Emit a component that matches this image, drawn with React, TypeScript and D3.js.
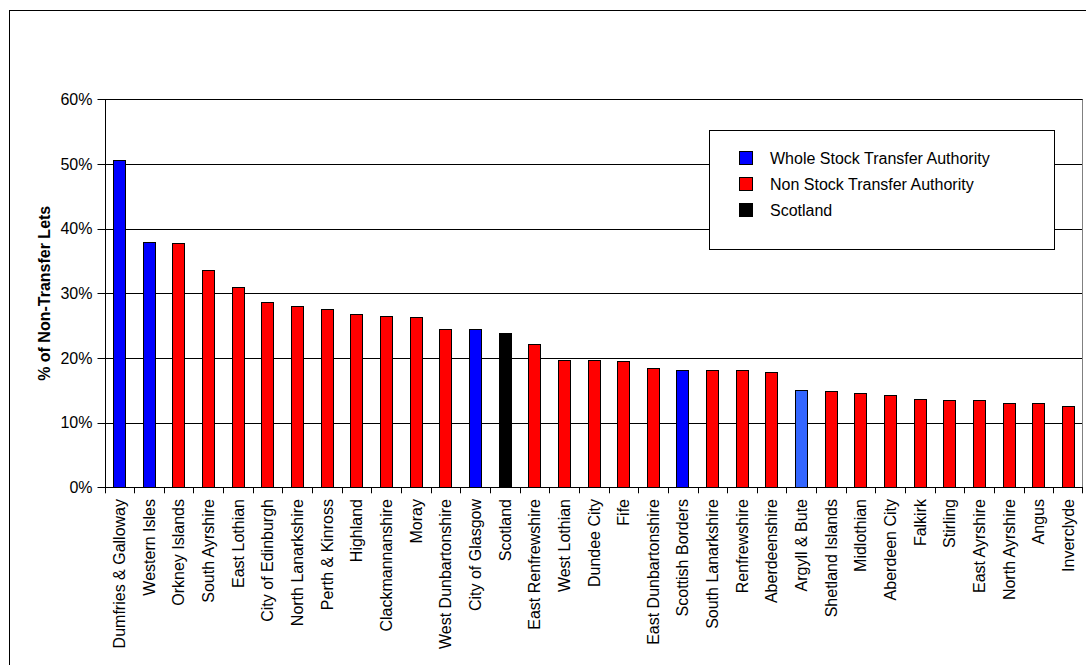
import React from "react";
import * as d3 from "d3";

const categories = [
  "Dumfries & Galloway", "Western Isles", "Orkney Islands", "South Ayrshire", "East Lothian",
  "City of Edinburgh", "North Lanarkshire", "Perth & Kinross", "Highland", "Clackmannanshire",
  "Moray", "West Dunbartonshire", "City of Glasgow", "Scotland", "East Renfrewshire",
  "West Lothian", "Dundee City", "Fife", "East Dunbartonshire", "Scottish Borders",
  "South Lanarkshire", "Renfrewshire", "Aberdeenshire", "Argyll & Bute", "Shetland Islands",
  "Midlothian", "Aberdeen City", "Falkirk", "Stirling", "East Ayrshire",
  "North Ayrshire", "Angus", "Inverclyde",
];

const values = [
  50.6, 38.0, 37.8, 33.6, 30.9,
  28.6, 28.1, 27.5, 26.8, 26.5,
  26.3, 24.5, 24.5, 23.8, 22.2,
  19.7, 19.7, 19.5, 18.5, 18.1,
  18.1, 18.1, 17.9, 15.1, 14.9,
  14.6, 14.2, 13.7, 13.5, 13.5,
  13.1, 13.1, 12.6,
];

// W = whole stock transfer, N = non stock transfer, S = Scotland, L = whole stock (lighter shade)
const groups = [
  "W", "W", "N", "N", "N",
  "N", "N", "N", "N", "N",
  "N", "N", "W", "S", "N",
  "N", "N", "N", "N", "W",
  "N", "N", "N", "L", "N",
  "N", "N", "N", "N", "N",
  "N", "N", "N",
];

const yTicks = [0, 10, 20, 30, 40, 50, 60];

const legendLabels = ["Whole Stock Transfer Authority", "Non Stock Transfer Authority", "Scotland"];
const legendGroups = ["W", "N", "S"];

const colorOf: Record<string, string> = {
  W: "#0000FF",
  N: "#FF0000",
  S: "#000000",
  L: "#3366FF",
};

const FONT = "'Liberation Sans', Arial, sans-serif";
const FS = 16;

export default function App() {
  const W = 1086;
  const H = 665;
  const left = 104.5;
  const right = 1083;
  const top = 99.3;
  const bottom = 487.3;

  const x = d3.scaleBand<string>().domain(categories).range([left, right]).paddingInner(0.58).paddingOuter(0.29);
  const xb = d3.scaleBand<string>().domain(categories).range([left, right]);
  const y = d3.scaleLinear().domain([0, 60]).range([bottom, top]);

  return (
    <>
      <style>{`body{margin:0}`}</style>
      <svg width={W} height={H} style={{ display: "block", fontFamily: FONT }}>
        <rect x={0} y={0} width={W} height={H} fill="#fff" />
        <rect x={9.5} y={10.5} width={1200} height={800} fill="none" stroke="#000" strokeWidth={1} />

        {/* gridlines */}
        {yTicks.map((t) => (
          <line key={"g" + t} x1={left - 7} x2={right} y1={Math.round(y(t)) + 0.5} y2={Math.round(y(t)) + 0.5} stroke="#000" strokeWidth={1} />
        ))}
        {/* y tick labels */}
        {yTicks.map((t) => (
          <text key={"yt" + t} x={92.5} y={y(t)} dy="0.36em" textAnchor="end" fontSize={FS} fill="#000">
            {t + "%"}
          </text>
        ))}
        {/* right border */}
        <line x1={right - 0.5} x2={right - 0.5} y1={Math.round(top) + 0.5} y2={bottom} stroke="#808080" strokeWidth={1} />

        {/* bars */}
        {categories.map((c, i) => (
          <rect
            key={c}
            x={Math.round(x(c)!) + 0.5}
            y={Math.round(y(values[i])) + 0.5}
            width={Math.round(x.bandwidth())}
            height={Math.round(bottom) - Math.round(y(values[i]))}
            fill={colorOf[groups[i]]}
            stroke="#000"
            strokeWidth={1}
          />
        ))}

        {/* axes */}
        <line x1={Math.round(left) + 0.5} x2={Math.round(left) + 0.5} y1={top} y2={bottom + 0.5} stroke="#000" strokeWidth={1} />
        <line x1={left} x2={right} y1={Math.round(bottom) + 0.5} y2={Math.round(bottom) + 0.5} stroke="#000" strokeWidth={1} />
        {categories.map((c, i) => (
          <line key={"xt" + i} x1={Math.round(xb(c)!) + 0.5} x2={Math.round(xb(c)!) + 0.5} y1={bottom} y2={bottom + 6} stroke="#000" strokeWidth={1} />
        ))}
        <line x1={right - 0.5} x2={right - 0.5} y1={bottom} y2={bottom + 6} stroke="#000" strokeWidth={1} />

        {/* x labels */}
        {categories.map((c) => {
          const cx = xb(c)! + xb.bandwidth() / 2;
          return (
            <text
              key={"xl" + c}
              transform={`translate(${cx},${499}) rotate(-90)`}
              textAnchor="end"
              dy="0.36em"
              fontSize={FS}
              fill="#000"
            >
              {c}
            </text>
          );
        })}

        {/* y axis title */}
        <text
          transform={`translate(44,${(top + bottom) / 2}) rotate(-90)`}
          textAnchor="middle"
          dy="0.36em"
          fontSize={FS}
          fontWeight="bold"
          fill="#000"
        >
          % of Non-Transfer Lets
        </text>

        {/* legend */}
        <rect x={709.5} y={130.5} width={345} height={119} fill="#fff" stroke="#000" strokeWidth={1} />
        {legendLabels.map((l, i) => (
          <g key={l}>
            <rect x={739.5} y={151.5 + i * 26} width={13} height={13} fill={colorOf[legendGroups[i]]} stroke="#000" strokeWidth={1} />
            <text x={770} y={158 + i * 26} dy="0.36em" fontSize={FS} fill="#000">
              {l}
            </text>
          </g>
        ))}
      </svg>
    </>
  );
}
